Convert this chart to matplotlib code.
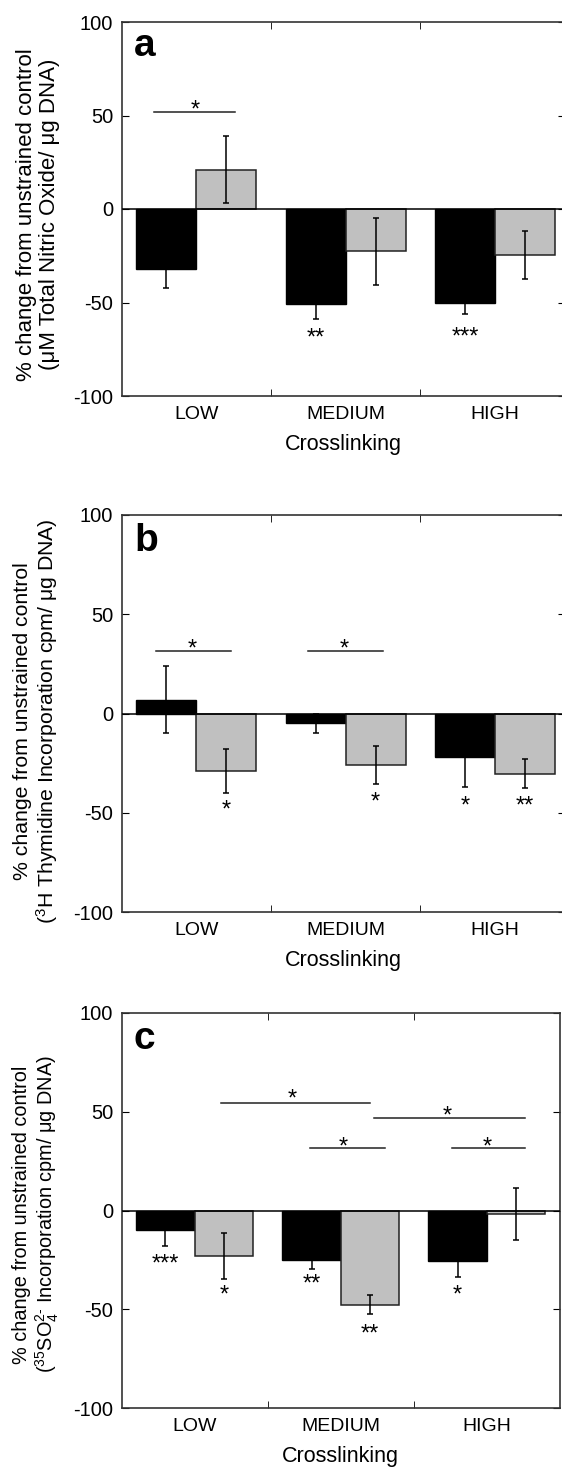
import matplotlib
matplotlib.use("Agg")
from matplotlib import pyplot as plt
import numpy as np

plt.rcParams['font.family'] = ['Liberation Sans', 'DejaVu Sans']
plt.rcParams['mathtext.fontset'] = 'custom'
plt.rcParams['mathtext.rm'] = 'Liberation Sans'
plt.rcParams['mathtext.it'] = 'Liberation Sans:italic'
plt.rcParams['axes.unicode_minus'] = False

categories = ['LOW', 'MEDIUM', 'HIGH']

# panel a - nitric oxide
a_black = [-32, -51, -50]
a_black_err = [10.5, 8, 6]
a_gray = [21, -22.6, -24.6]
a_gray_err = [18, 18, 12.6]
a_stars = [(1.8, -65.6, '**'), (2.8, -64.7, '***')]
a_brackets = [(0.72, 1.26, 52, 0.99, 56.5)]

# panel b - thymidine
b_black = [7, -5, -22]
b_black_err = [17, 5, 15]
b_gray = [-29, -26, -30.4]
b_gray_err = [11, 9.6, 7.3]
b_stars = [(1.2, -45.3, '*'), (2.2, -41, '*'), (2.8, -43, '*'), (3.2, -43, '**')]
b_brackets = [(0.73, 1.23, 31.4, 0.97, 35.6), (1.75, 2.25, 31.4, 1.99, 35.6)]

# panel c - sulphate
c_black = [-10, -25.3, -25.8]
c_black_err = [8, 4.3, 8]
c_gray = [-23.2, -47.7, -1.7]
c_gray_err = [11.7, 4.9, 13]
c_stars = [(0.8, -23.9, '***'), (1.2, -39.5, '*'), (1.8, -33.7, '**'),
           (2.2, -59.4, '**'), (2.8, -39.5, '*')]
c_brackets = [(1.18, 2.20, 54.4, 1.67, 59.7), (2.23, 3.26, 47, 2.725, 51.4),
              (1.79, 2.30, 31.7, 2.02, 35.7), (2.76, 3.26, 31.7, 3.0, 35.7)]

ylab1 = "% change from unstrained control"
ylabels = ["(μM Total Nitric Oxide/ μg DNA)",
           r"($^{3}$H Thymidine Incorporation cpm/ μg DNA)",
           r"($^{35}$SO$_4^{2\text{-}}$ Incorporation cpm/ μg DNA)"]
ylabel_sizes = [16, 15.3, 14.3]
ylabel_centres = [0.485, 0.48, 0.49]

W, H = 562, 1469
fig = plt.figure(figsize=(W / 100, H / 100), dpi=100)


def px_axes(l, t, r, b):
    return fig.add_axes([l / W, 1 - b / H, (r - l) / W, (b - t) / H])


panels = [
    (px_axes(121.5, 22, 565, 396), 'a', a_black, a_black_err, a_gray, a_gray_err, a_stars, a_brackets, 3.467),
    (px_axes(121.5, 515, 565, 912), 'b', b_black, b_black_err, b_gray, b_gray_err, b_stars, b_brackets, 3.467),
    (px_axes(121.5, 1013, 560, 1408), 'c', c_black, c_black_err, c_gray, c_gray_err, c_stars, c_brackets, 3.5),
]

x = np.arange(1, 4)
w = 0.4
star_fs = 17

for i, (ax, letter, blk, blk_e, gry, gry_e, stars, brackets, xmax) in enumerate(panels):
    ax.bar(x - w / 2, blk, w, color='black', edgecolor='black', linewidth=1, zorder=2)
    ax.bar(x + w / 2, gry, w, color='#c0c0c0', edgecolor='#222222', linewidth=1.1, zorder=2)
    ax.errorbar(x - w / 2, blk, yerr=blk_e, fmt='none', ecolor='black', elinewidth=1.1,
                capsize=2.2, capthick=1.1, zorder=3)
    ax.errorbar(x + w / 2, gry, yerr=gry_e, fmt='none', ecolor='black', elinewidth=1.1,
                capsize=2.2, capthick=1.1, zorder=3)
    ax.axhline(0, color='black', linewidth=1.1, zorder=4)

    for sx, sy, s in stars:
        ax.annotate(s, (sx, sy), xytext=(0, -9.5), textcoords='offset points',
                    ha='center', va='baseline', fontsize=star_fs)
    for x0, x1, ly, sx, sy in brackets:
        ax.plot([x0, x1], [ly, ly], color='#222222', linewidth=1.1)
        ax.annotate('*', (sx, sy), xytext=(0, -9.5), textcoords='offset points',
                    ha='center', va='baseline', fontsize=star_fs)

    ax.text(0.028, 0.91, letter, transform=ax.transAxes, fontsize=28,
            fontweight='bold', va='baseline')

    ax.set_xlim(0.5, xmax)
    ax.set_ylim(-100, 100)
    ax.set_yticks([-100, -50, 0, 50, 100])
    ax.set_xticks(x)
    ax.set_xticklabels(categories)
    ax.set_xticks([1.5, 2.5], minor=True)
    ax.tick_params(axis='x', which='major', length=0, pad=7, labelsize=14)
    ax.tick_params(axis='x', which='minor', direction='in', length=5, top=True, bottom=True)
    ax.tick_params(axis='y', direction='in', length=5, right=True, pad=6, labelsize=14.5)
    for sp in ax.spines.values():
        sp.set_linewidth(1.2)
        sp.set_color('#333333')

    ax.set_xlabel("Crosslinking", fontsize=15.5, labelpad=8)
    ax.set_ylabel(ylab1 + "\n" + ylabels[i], fontsize=ylabel_sizes[i], linespacing=1.1)
    ax.yaxis.set_label_coords(-0.139, ylabel_centres[i])

fig.savefig("out.png", dpi=100)
